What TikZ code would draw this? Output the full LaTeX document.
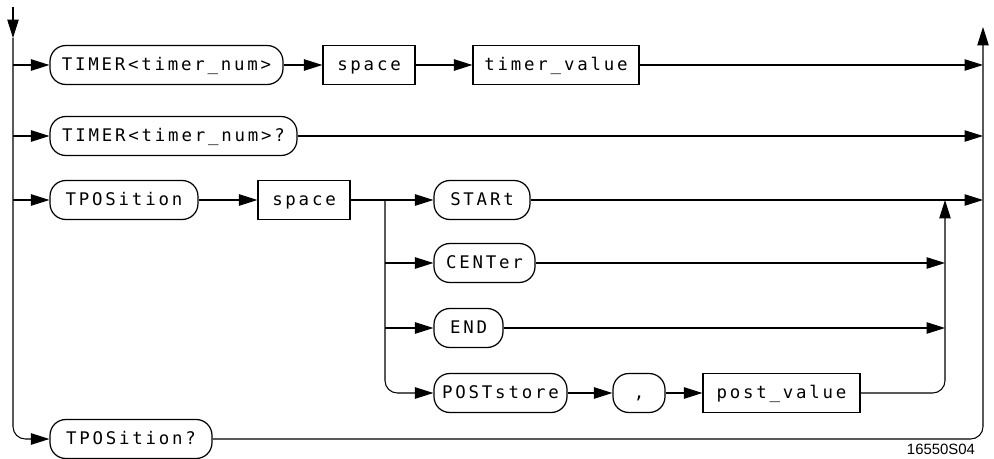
\documentclass[tikz,border=0pt]{standalone}
\usepackage{fontspec}
\usetikzlibrary{arrows.meta}
\newfontfamily\plotfont[LetterSpace=16]{DejaVu Sans Mono}
\newfontfamily\labelfont{Liberation Sans}

\begin{document}
\begin{tikzpicture}[x=0.02cm, y=-0.02cm, line width=0.6pt,
  arw/.style={-{Triangle[length=10.5pt,width=6.5pt]}},
  word/.style={draw, line width=0.7pt, rounded corners=9pt, minimum height=0.78cm, inner sep=0pt, text height=7.3pt, text depth=1.5pt, font={\plotfont\fontsize{9.9}{11}\selectfont}},
  param/.style={draw, line width=0.7pt, minimum height=0.78cm, inner sep=0pt, text height=7.3pt, text depth=1.5pt, font={\plotfont\fontsize{9.9}{11}\selectfont}}]

\useasboundingbox (0,0) rectangle (994,459);

\node[word, minimum width=4.66cm] (tn) at (166.5,65) {TIMER<timer\_num>};
\node[param, minimum width=1.84cm] (sp1) at (369,65) {space};
\node[param, minimum width=3.32cm] (tv) at (556,65) {timer\_value};
\node[word, minimum width=4.94cm] (tnq) at (173.5,136) {TIMER<timer\_num>?};
\node[word, minimum width=2.96cm] (tp) at (124,200) {TPOSition};
\node[param, minimum width=1.84cm] (sp2) at (304,200) {space};
\node[word, minimum width=1.92cm] (st) at (482,200) {STARt};
\node[word, minimum width=2.02cm] (ce) at (484.5,263) {CENTer};
\node[word, minimum width=1.38cm] (en) at (468.5,328) {END};
\node[word, minimum width=2.66cm] (ps) at (500.5,393) {POSTstore};
\node[word, minimum width=1.04cm] (cm) at (639,393) {,};
\node[param, minimum width=3.14cm] (pv) at (781.5,393) {post\_value};
\node[word, minimum width=3.24cm] (tpq) at (131,439) {TPOSition?};
\node[font={\labelfont\fontsize{8.5}{10}\selectfont}] (code) at (941,449) {16550S04};

\coordinate (top) at (13,7);
\coordinate (in) at (13,38);
\coordinate (j1) at (13,65);
\coordinate (j2) at (13,136);
\coordinate (j3) at (13,200);
\coordinate (r1) at (983,65);
\coordinate (r2) at (983,136);
\coordinate (r3) at (983,200);
\coordinate (out) at (983,27);
\coordinate (b1) at (385,200);
\coordinate (b2) at (385,263);
\coordinate (b3) at (385,328);
\coordinate (m1) at (945,200);
\coordinate (m2) at (945,263);
\coordinate (m3) at (945,328);

\draw[arw] (top) -- (in);
\draw[arw, rounded corners=7pt] (in) |- (tpq.west);
\draw[arw] (j1) -- (tn.west);
\draw[arw] (tn.east) -- (sp1.west);
\draw[arw] (sp1.east) -- (tv.west);
\draw[arw] (tv.east) -- (r1);
\draw[arw] (j2) -- (tnq.west);
\draw[arw] (tnq.east) -- (r2);
\draw[arw] (j3) -- (tp.west);
\draw[arw] (tp.east) -- (sp2.west);
\draw[arw] (sp2.east) -- (st.west);
\draw[arw] (st.east) -- (r3);
\draw[arw, rounded corners=7pt] (b1) |- (ps.west);
\draw[arw] (b2) -- (ce.west);
\draw[arw] (b3) -- (en.west);
\draw[arw] (ce.east) -- (m2);
\draw[arw] (en.east) -- (m3);
\draw[arw] (ps.east) -- (cm.west);
\draw[arw] (cm.east) -- (pv.west);
\draw[arw, rounded corners=7pt] (pv.east) -| (m1);
\draw[arw, rounded corners=7pt] (tpq.east) -| (out);

\end{tikzpicture}
\end{document}
